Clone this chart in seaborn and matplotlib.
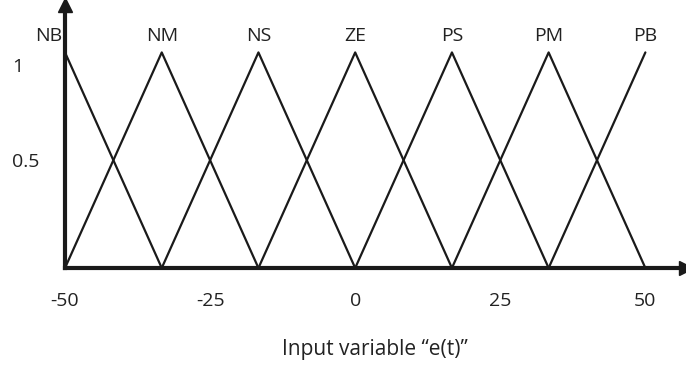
import pandas as pd
import seaborn as sns
import matplotlib.pyplot as plt
import matplotlib.transforms as mtransforms

# triangular membership functions: left foot, peak, right foot
sets = ['NB', 'NM', 'NS', 'ZE', 'PS', 'PM', 'PB']
left = [-50, -50, -33.33, -16.67, 0, 16.67, 33.33]
peak = [-50, -33.33, -16.67, 0, 16.67, 33.33, 50]
right = [-33.33, -16.67, 0, 16.67, 33.33, 50, 50]

xticks = [-50, -25, 0, 25, 50]
yticks = [0.5, 1]
ytick_labels = ['0.5', '1']

rows = []
for s, a, b, c in zip(sets, left, peak, right):
    pts = [(a, 0), (b, 1), (c, 0)]
    if a == b:
        pts = pts[1:]
    if b == c:
        pts = pts[:-1]
    for i, (x, y) in enumerate(pts):
        rows.append({'set': s, 'order': i, 'e': x, 'mu': y})
df = pd.DataFrame(rows)

sns.set_style('white')
plt.rcParams['font.family'] = ['Open Sans', 'DejaVu Sans']
txt = '#222222'

fig = plt.figure(figsize=(6.86, 3.68), dpi=100)
ax = fig.add_axes([65 / 686, 100 / 368, 621 / 686, 263 / 368])

sns.lineplot(data=df, x='e', y='mu', units='set', estimator=None, sort=False,
             color='#1a1a1a', linewidth=1.6, ax=ax)

ax.set_xlim(-50, 57)
ax.set_ylim(0, 1.22)

for side in ['top', 'right']:
    ax.spines[side].set_visible(False)
for side in ['left', 'bottom']:
    ax.spines[side].set_linewidth(3)
    ax.spines[side].set_color('#1a1a1a')

# arrow heads
ax.plot(1, 0, '>', color='#1a1a1a', markersize=10, transform=ax.transAxes, clip_on=False)
ax.plot(0, 1, '^', color='#1a1a1a', markersize=10, transform=ax.transAxes, clip_on=False)

ax.set_xticks(xticks)
ax.set_xticklabels([str(t) for t in xticks], fontsize=14, color=txt)
ax.set_yticks(yticks)
ax.set_yticklabels(ytick_labels, fontsize=14, color=txt, ha='left')
ax.tick_params(axis='x', length=0, pad=17)
ax.tick_params(axis='y', length=0, pad=38)

# the "1" sits a little below the peak level in the original
for lab in ax.get_yticklabels():
    if lab.get_text() == '1':
        lab.set_transform(lab.get_transform() +
                          mtransforms.ScaledTranslation(0, -9 / 72, fig.dpi_scale_trans))

for s, b in zip(sets, peak):
    if s == 'NB':
        ax.text(b - 0.5, 1.035, s, ha='right', va='bottom', fontsize=14, color=txt)
    else:
        ax.text(b, 1.035, s, ha='center', va='bottom', fontsize=14, color=txt)

ax.set_xlabel('Input variable \u201ce(t)\u201d', fontsize=15, color=txt)
ax.xaxis.set_label_coords((375 - 65) / 621, -0.27)
ax.set_ylabel('')

fig.savefig('out.png', dpi=100)
